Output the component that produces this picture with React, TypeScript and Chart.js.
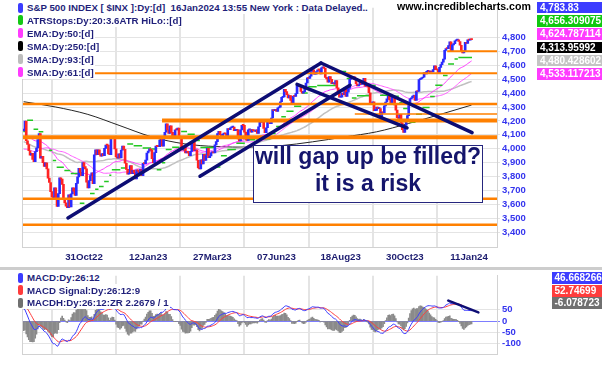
import React, { useEffect, useRef } from "react";
import { Chart, registerables } from "chart.js";

Chart.register(...registerables);

const FONT = "'Liberation Sans', Arial, Helvetica, sans-serif";

// ---------- DATA ----------
// S&P 500 daily closes before the visible window (Apr 1 2022 .. Aug 23 2022), used to warm up the indicators
const WARMUP_CLOSES = [
  4546, 4583, 4525, 4481, 4500, 4488, 4413, 4397, 4447, 4392, 4392, 4463, 4459, 4394, 4272, 4296, 4175, 4184, 4288, 4132,
  4155, 4175, 4300, 4147, 4123, 3991, 4001, 3935, 3930, 4024, 4008, 4088, 3923, 3901, 3901, 3974, 3941, 3979, 4058, 4158, 4132,
  4101, 4177, 4109, 4121, 4161, 4116, 4018, 3901, 3750, 3735, 3790, 3667, 3675, 3765, 3760, 3796, 3912, 3901, 3822, 3819, 3785,
  3825, 3831, 3845, 3903, 3899, 3855, 3819, 3802, 3791, 3863, 3831, 3937, 3960, 3999, 3962, 3967, 3921, 4024, 4072, 4130,
  4119, 4091, 4155, 4152, 4145, 4140, 4122, 4210, 4208, 4280, 4297, 4305, 4275, 4284, 4228, 4138, 4128,
];

// visible daily closes, Aug 24 2022 .. Jan 16 2024
const FIRST_DATE = "2022-08-24";
const CLOSES = [
  // Aug 22
  4141, 4199, 4058, 4031, 3986, 3955,
  // Sep 22
  3967, 3924, 3908, 3980, 4006, 4067, 4110, 3932, 3946, 3901, 3873, 3900, 3856, 3790, 3758, 3693, 3655, 3647, 3719, 3640, 3586,
  // Oct 22
  3678, 3791, 3783, 3745, 3640, 3612, 3589, 3577, 3670, 3583, 3677, 3720, 3696, 3666, 3752, 3798, 3859, 3831, 3807, 3901, 3872,
  // Nov 22
  3856, 3760, 3720, 3771, 3807, 3828, 3749, 3956, 3993, 3957, 3992, 3959, 3947, 3965, 3950, 4003, 4027, 4026, 3964, 3958, 4080,
  // Dec 22
  4076, 4072, 3999, 3941, 3933, 3964, 3934, 3991, 4019, 3996, 3896, 3852, 3818, 3821, 3879, 3822, 3845, 3829, 3783, 3849, 3840,
  // Jan 23
  3824, 3853, 3808, 3895, 3893, 3919, 3970, 3983, 3999, 3991, 3929, 3899, 3972, 4019, 4017, 4016, 4060, 4071, 4018, 4077,
  // Feb 23
  4119, 4180, 4136, 4111, 4164, 4118, 4082, 4090, 4137, 4136, 4148, 4090, 4079, 3997, 3991, 4012, 3970, 3982, 3970,
  // Mar 23
  3951, 3981, 4046, 4048, 3986, 3992, 3918, 3862, 3855, 3920, 3892, 3960, 3917, 3952, 4003, 3937, 3948, 3971, 3977, 3971, 4028, 4051, 4109,
  // Apr 23
  4125, 4101, 4091, 4105, 4110, 4108, 4092, 4146, 4138, 4151, 4155, 4155, 4130, 4133, 4138, 4071, 4056, 4136, 4169,
  // May 23
  4168, 4120, 4091, 4061, 4136, 4138, 4119, 4138, 4130, 4124, 4136, 4110, 4158, 4198, 4192, 4192, 4146, 4116, 4151, 4205, 4206, 4180,
  // Jun 23
  4221, 4282, 4273, 4284, 4268, 4294, 4299, 4338, 4369, 4373, 4426, 4410, 4389, 4366, 4382, 4348, 4328, 4378, 4376, 4396, 4450,
  // Jul 23
  4455, 4447, 4412, 4399, 4410, 4439, 4472, 4510, 4505, 4522, 4555, 4566, 4535, 4536, 4555, 4567, 4566, 4537, 4582, 4589,
  // Aug 23
  4577, 4513, 4502, 4478, 4518, 4499, 4468, 4469, 4464, 4490, 4437, 4404, 4370, 4370, 4400, 4388, 4436, 4376, 4406, 4433, 4498, 4515, 4508,
  // Sep 23
  4516, 4497, 4465, 4451, 4458, 4487, 4462, 4467, 4505, 4450, 4454, 4444, 4402, 4330, 4320, 4337, 4274, 4275, 4300, 4288,
  // Oct 23
  4288, 4229, 4263, 4258, 4308, 4336, 4358, 4377, 4350, 4327, 4374, 4373, 4315, 4278, 4224, 4218, 4248, 4186, 4137, 4117, 4167, 4194,
  // Nov 23
  4238, 4318, 4358, 4365, 4378, 4383, 4347, 4415, 4411, 4496, 4502, 4508, 4514, 4547, 4538, 4556, 4559, 4550, 4554, 4551, 4568,
  // Dec 23
  4595, 4569, 4567, 4549, 4585, 4604, 4622, 4644, 4707, 4720, 4719, 4741, 4768, 4698, 4746, 4755, 4775, 4781, 4783, 4770,
  // Jan 24
  4743, 4705, 4689, 4697, 4764, 4757, 4783, 4780, 4784, 4783.83,
];

const HOLIDAYS = [
  "2022-09-05", "2022-11-24", "2022-12-26", "2023-01-02", "2023-01-16", "2023-02-20", "2023-04-07",
  "2023-05-29", "2023-06-19", "2023-07-04", "2023-09-04", "2023-11-23", "2023-12-25", "2024-01-01", "2024-01-15",
];

const TICK_DATES = ["2022-10-31", "2023-01-12", "2023-03-27", "2023-06-07", "2023-08-18", "2023-10-30", "2024-01-11"];
const TICK_LABELS = ["31Oct22", "12Jan23", "27Mar23", "07Jun23", "18Aug23", "30Oct23", "11Jan24"];
const PRICE_TICKS = [3400, 3500, 3600, 3700, 3800, 3900, 4000, 4100, 4200, 4300, 4400, 4500, 4600, 4700, 4800];
const MACD_TICKS = [50, 0, -50, -100];

// SMA 250 (bar index, value)
const SMA250_IDX = [0, 25, 50, 75, 100, 125, 150, 175, 200, 225, 250, 275, 300, 325, 349];
const SMA250_VAL = [4338, 4300, 4247, 4166, 4085, 4036, 4016, 4012, 4022, 4050, 4085, 4122, 4182, 4248, 4314];

// ATR trailing stop levels: [first bar, last bar, level]
const ATR_STOPS = [
  [0, 1, 4125], [3, 7, 4205], [8, 11, 4140], [12, 15, 4122], [16, 19, 4075], [20, 22, 3990], [23, 25, 3916],
  [26, 31, 3868], [32, 36, 3845], [37, 42, 3822], [44, 47, 3610], [48, 51, 3640], [52, 55, 3680], [56, 58, 3709],
  [59, 62, 3730], [63, 66, 3765], [67, 68, 3810], [69, 75, 3850], [76, 79, 3862], [81, 85, 4035], [86, 92, 4022],
  [93, 99, 4005], [100, 102, 3998], [104, 107, 3850], [108, 110, 3900], [111, 115, 3995], [116, 121, 4012],
  [123, 127, 4125], [128, 133, 4105], [134, 137, 4060], [138, 148, 4010], [150, 153, 3870], [154, 158, 3950],
  [159, 165, 3995], [166, 172, 4040], [173, 180, 4065], [181, 192, 4072], [193, 196, 4110], [197, 200, 4160],
  [201, 204, 4230], [205, 210, 4270], [211, 216, 4305], [217, 221, 4400], [222, 228, 4445], [229, 243, 4455],
  [245, 251, 4555], [252, 254, 4505], [256, 259, 4365], [260, 269, 4380], [271, 274, 4455], [275, 277, 4430],
  [278, 286, 4385], [287, 292, 4378], [293, 295, 4330], [296, 299, 4290], [301, 305, 4190], [306, 310, 4248],
  [311, 316, 4297], [317, 320, 4376], [321, 326, 4457], [327, 330, 4526], [331, 335, 4609], [336, 338, 4644],
  [339, 349, 4656],
];

// horizontal support / resistance levels and the bar they start from
const SUPPORT_LEVELS = [4700, 4542, 4322, 4250, 4203, 4082, 3641, 3455];
const SUPPORT_FROM = [330, 40, -2, 258, 107.8, -2, -2, -2];

// trend lines: [bar1, price1, bar2, price2]
const TREND_LINES = [
  [34.5, 3504, 231.7, 4616],
  [137.4, 3803, 254.3, 4456],
  [231.7, 4616, 349.4, 4116],
  [213.0, 4463, 298.7, 4150],
];
const MACD_TREND = [330.9, 90.6, 354.3, 38.7];
const HIST_SCALE = 2.2679;

// ---------- STYLE ----------
const SUPPORT_WIDTHS = [2, 2, 2.5, 1.5, 4, 4, 2.5, 2.5];
const X_MIN = -1.3;
const X_MAX = 368.8;

// ---------- helpers ----------
function tradingDates(start: string, n: number): string[] {
  const out: string[] = [];
  const d = new Date(start + "T12:00:00Z");
  while (out.length < n) {
    const wd = d.getUTCDay();
    const iso = d.toISOString().slice(0, 10);
    if (wd !== 0 && wd !== 6 && !HOLIDAYS.includes(iso)) out.push(iso);
    d.setUTCDate(d.getUTCDate() + 1);
  }
  return out;
}
function ema(src: number[], n: number): number[] {
  const k = 2 / (n + 1);
  const out: number[] = [];
  let e = src[0];
  for (let i = 0; i < src.length; i++) {
    e = i === 0 ? src[0] : src[i] * k + e * (1 - k);
    out.push(e);
  }
  return out;
}
function sma(src: number[], n: number): (number | null)[] {
  const out: (number | null)[] = [];
  let s = 0;
  for (let i = 0; i < src.length; i++) {
    s += src[i];
    if (i >= n) s -= src[i - n];
    out.push(i >= n - 1 ? s / n : null);
  }
  return out;
}

const LEGEND_MAIN = [
  { text: "S&P 500 INDEX [ $INX ]:Dy:[d]  16Jan2024 13:55 New York : Data Delayed..", color: "#3c3cff" },
  { text: "ATRStops:Dy:20:3.6ATR HiLo::[d]", color: "#14c814" },
  { text: "EMA:Dy:50:[d]", color: "#ff3cff" },
  { text: "SMA:Dy:250:[d]", color: "#000000" },
  { text: "SMA:Dy:93:[d]", color: "#bdbdbd" },
  { text: "SMA:Dy:61:[d]", color: "#ff3cff" },
];
const VALUE_BOXES = [
  { text: "4,783.83", color: "#3c3cff" },
  { text: "4,656.309075", color: "#10c810" },
  { text: "4,624.787114", color: "#ff3cff" },
  { text: "4,313.95992", color: "#000000" },
  { text: "4,480.428602", color: "#c4c4c4" },
  { text: "4,533.117213", color: "#ff3cff" },
];
const LEGEND_MACD = [
  { text: "MACD:Dy:26:12", color: "#3c3cff" },
  { text: "MACD Signal:Dy:26:12:9", color: "#ff3c3c" },
  { text: "MACDH:Dy:26:12:ZR 2.2679 / 1", color: "#707070" },
];
const MACD_BOXES = [
  { text: "46.668266", color: "#3c3cff" },
  { text: "52.74699", color: "#ff3c3c" },
  { text: "-6.078723", color: "#707070" },
];

export default function App() {
  const mainRef = useRef<HTMLCanvasElement>(null);
  const macdRef = useRef<HTMLCanvasElement>(null);

  useEffect(() => {
    const all = [...WARMUP_CLOSES, ...CLOSES];
    const off = WARMUP_CLOSES.length;
    const dates = tradingDates(FIRST_DATE, CLOSES.length + 25);
    const tickIdx = TICK_DATES.map((t) => dates.indexOf(t));
    const tickMap = new Map<number, string>();
    tickIdx.forEach((v, i) => tickMap.set(v, TICK_LABELS[i]));

    const ema50 = ema(all, 50).slice(off);
    const sma61 = sma(all, 61).slice(off);
    const sma93 = sma(all, 93).slice(off);
    const e12 = ema(all, 12);
    const e26 = ema(all, 26);
    const macdAll = e12.map((v, i) => v - e26[i]);
    const sigAll = ema(macdAll, 9);
    const macd = macdAll.slice(off);
    const sig = sigAll.slice(off);
    const hist = macd.map((v, i) => v - sig[i]);

    const priceBars = CLOSES.map((c, i) => ({ x: i, y: [i === 0 ? all[off - 1] : CLOSES[i - 1], c] }));
    const barColors = CLOSES.map((c, i) => (c >= (i === 0 ? all[off - 1] : CLOSES[i - 1]) ? "#2a2aff" : "#ff2424"));

    const atrPts: any[] = [];
    ATR_STOPS.forEach(([s, e, v]) => {
      atrPts.push({ x: s - 0.3, y: v }, { x: e + 0.3, y: v }, { x: e + 0.5, y: null });
    });

    const line = (arr: (number | null)[]) => arr.map((v, i) => ({ x: i, y: v }));

    const fontTick = { family: FONT, size: 9.5, weight: "bold" as const };

    const overlay = {
      id: "overlay",
      afterDatasetsDraw(chart: any) {
        const { ctx, chartArea: a, scales } = chart;
        const xs = scales.x;
        const ys = scales.y;
        ctx.save();
        ctx.beginPath();
        ctx.rect(a.left, a.top, a.right - a.left, a.bottom - a.top);
        ctx.clip();
        SUPPORT_LEVELS.forEach((lv, i) => {
          const y = ys.getPixelForValue(lv);
          ctx.strokeStyle = "#ff8000";
          ctx.lineWidth = SUPPORT_WIDTHS[i];
          ctx.beginPath();
          ctx.moveTo(xs.getPixelForValue(SUPPORT_FROM[i]), y);
          ctx.lineTo(a.right, y);
          ctx.stroke();
        });
        ctx.strokeStyle = "#0d0d74";
        ctx.lineWidth = 3.5;
        ctx.lineCap = "round";
        TREND_LINES.forEach(([x1, y1, x2, y2]) => {
          ctx.beginPath();
          ctx.moveTo(xs.getPixelForValue(x1), ys.getPixelForValue(y1));
          ctx.lineTo(xs.getPixelForValue(x2), ys.getPixelForValue(y2));
          ctx.stroke();
        });
        ctx.restore();
        ctx.save();
        ctx.strokeStyle = "#d2d2d2";
        ctx.lineWidth = 1;
        ctx.beginPath();
        ctx.moveTo(a.left + 0.5, a.top);
        ctx.lineTo(a.left + 0.5, a.bottom);
        ctx.stroke();
        ctx.restore();
      },
    };

    const mainChart = new Chart(mainRef.current as HTMLCanvasElement, {
      type: "bar",
      data: {
        datasets: [
          {
            type: "bar",
            data: priceBars as any,
            backgroundColor: barColors,
            barThickness: 2,
            minBarLength: 1,
            order: 0,
          } as any,
          {
            type: "line",
            data: atrPts,
            borderColor: "#22c822",
            borderWidth: 1.5,
            pointRadius: 0,
            spanGaps: false,
            order: 1,
          } as any,
          { type: "line", data: line(ema50), borderColor: "#ff3cff", borderWidth: 1, pointRadius: 0, order: 2 } as any,
          { type: "line", data: line(sma61), borderColor: "#ff5cff", borderWidth: 1, pointRadius: 0, order: 2 } as any,
          { type: "line", data: line(sma93), borderColor: "#c0c0c0", borderWidth: 1.5, pointRadius: 0, order: 3 } as any,
          {
            type: "line",
            data: SMA250_IDX.map((x, i) => ({ x, y: SMA250_VAL[i] })),
            borderColor: "#262626",
            borderWidth: 1,
            pointRadius: 0,
            cubicInterpolationMode: "monotone",
            order: 3,
          } as any,
        ],
      },
      options: {
        animation: false,
        responsive: false,
        events: [],
        layout: { padding: { left: 22, top: 0, right: 0, bottom: 0 } },
        plugins: { legend: { display: false }, tooltip: { enabled: false } },
        scales: {
          x: {
            type: "linear",
            min: X_MIN,
            max: X_MAX,
            offset: false,
            afterBuildTicks: (s: any) => {
              s.ticks = tickIdx.map((v) => ({ value: v }));
            },
            afterFit: (s: any) => {
              s.height = 21;
            },
            ticks: {
              autoSkip: false,
              maxRotation: 0,
              padding: 5,
              color: "#1d1d70",
              font: { family: FONT, size: 9.7, weight: "bold" },
              callback: (v: any) => tickMap.get(Math.round(Number(v))) ?? "",
            },
            grid: { color: "#e4e4e4", lineWidth: 2, drawTicks: false },
            border: { display: true, color: "#d2d2d2", width: 1 },
          },
          y: {
            type: "linear",
            position: "right",
            min: 3295.1,
            max: 5012.8,
            afterBuildTicks: (s: any) => {
              s.ticks = PRICE_TICKS.map((v) => ({ value: v }));
            },
            afterFit: (s: any) => {
              s.width = 105;
            },
            ticks: {
              padding: 2,
              color: "#3434ee",
              font: fontTick,
              callback: (v: any) => Number(v).toLocaleString("en-US"),
            },
            grid: { color: "#e4e4e4", lineWidth: 1, tickLength: 3 },
            border: { display: true, color: "#d2d2d2", width: 1 },
          },
        },
      } as any,
      plugins: [overlay],
    });

    const macdOverlay = {
      id: "macdOverlay",
      afterDatasetsDraw(chart: any) {
        const { ctx, chartArea: a, scales } = chart;
        const xs = scales.x;
        const ys = scales.y;
        ctx.save();
        ctx.beginPath();
        ctx.rect(a.left, a.top, a.right - a.left, a.bottom - a.top);
        ctx.clip();
        ctx.strokeStyle = "#0d0d74";
        ctx.lineWidth = 2.5;
        ctx.lineCap = "round";
        ctx.beginPath();
        ctx.moveTo(xs.getPixelForValue(MACD_TREND[0]), ys.getPixelForValue(MACD_TREND[1]));
        ctx.lineTo(xs.getPixelForValue(MACD_TREND[2]), ys.getPixelForValue(MACD_TREND[3]));
        ctx.stroke();
        ctx.restore();
        ctx.save();
        ctx.strokeStyle = "#d2d2d2";
        ctx.lineWidth = 1;
        ctx.beginPath();
        ctx.moveTo(a.left + 0.5, a.top);
        ctx.lineTo(a.left + 0.5, a.bottom);
        ctx.stroke();
        ctx.restore();
      },
    };

    const macdChart = new Chart(macdRef.current as HTMLCanvasElement, {
      type: "bar",
      data: {
        datasets: [
          { type: "line", data: line(macd), borderColor: "#3c3cff", borderWidth: 1, pointRadius: 0, order: 0 } as any,
          { type: "line", data: line(sig), borderColor: "#ff3c3c", borderWidth: 1, pointRadius: 0, order: 1 } as any,
          {
            type: "bar",
            data: hist.map((v, i) => ({ x: i, y: v * HIST_SCALE })),
            backgroundColor: "#8a8a8a",
            barThickness: 1,
            order: 2,
          } as any,
        ],
      },
      options: {
        animation: false,
        responsive: false,
        events: [],
        layout: { padding: { left: 22, top: 2, right: 0, bottom: 0 } },
        plugins: { legend: { display: false }, tooltip: { enabled: false } },
        scales: {
          x: {
            type: "linear",
            min: X_MIN,
            max: X_MAX,
            offset: false,
            afterBuildTicks: (s: any) => {
              s.ticks = tickIdx.map((v) => ({ value: v }));
            },
            afterFit: (s: any) => {
              s.height = 11;
            },
            ticks: { display: false },
            grid: { color: "#e4e4e4", lineWidth: 2, drawTicks: false },
            border: { display: true, color: "#d2d2d2", width: 1 },
          },
          y: {
            type: "linear",
            position: "right",
            min: -145.4,
            max: 200.7,
            afterBuildTicks: (s: any) => {
              s.ticks = MACD_TICKS.map((v) => ({ value: v }));
            },
            afterFit: (s: any) => {
              s.width = 105;
            },
            ticks: { padding: 2, color: "#3434ee", font: fontTick },
            grid: {
              color: (c: any) => (c.tick && c.tick.value === 0 ? "#7d7dff" : "#e4e4e4"),
              lineWidth: 1,
              tickLength: 3,
            },
            border: { display: true, color: "#d2d2d2", width: 1 },
          },
        },
      } as any,
      plugins: [macdOverlay],
    });

    return () => {
      mainChart.destroy();
      macdChart.destroy();
    };
  }, []);

  const legendRow = (r: { text: string; color: string }, center: number, key: string) => (
    <div
      key={key}
      style={{
        position: "absolute",
        left: 18,
        top: center - 6.5,
        height: 13,
        display: "flex",
        alignItems: "center",
        background: "#fff",
        paddingRight: 1,
      }}
    >
      <span style={{ display: "inline-block", width: 5, height: 10, borderRadius: 2, background: r.color, marginRight: 4 }} />
      <span style={{ font: `bold 9.7px ${FONT}`, color: "#1f1f7a", whiteSpace: "pre", lineHeight: "13px" }}>{r.text}</span>
    </div>
  );

  const valueBox = (b: { text: string; color: string }, left: number, top: number, h: number, key: string) => (
    <div
      key={key}
      style={{
        position: "absolute",
        left,
        top,
        width: 602 - left,
        height: h,
        background: b.color,
        color: "#fff",
        font: `bold 10px ${FONT}`,
        lineHeight: `${h}px`,
        paddingLeft: 3,
        boxSizing: "border-box",
        whiteSpace: "pre",
        overflow: "hidden",
      }}
    >
      {b.text}
    </div>
  );

  return (
    <div
      style={{
        position: "absolute",
        left: 0,
        top: 0,
        width: 602,
        height: 365,
        background: "#fff",
        overflow: "hidden",
        fontFamily: FONT,
      }}
    >
      <canvas ref={mainRef} width={602} height={268} style={{ position: "absolute", left: 0, top: 0 }} />
      <canvas ref={macdRef} width={602} height={97} style={{ position: "absolute", left: 0, top: 268 }} />
      <div style={{ position: "absolute", left: 0, top: 267, width: 602, height: 3, background: "#cdcdcd" }} />

      {LEGEND_MAIN.map((r, i) => legendRow(r, 7.5 + 12.9 * i, "lm" + i))}
      {LEGEND_MACD.map((r, i) => legendRow(r, 277.5 + 12.5 * i, "lc" + i))}

      <div
        style={{
          position: "absolute",
          left: 397,
          top: 0,
          height: 14,
          lineHeight: "14px",
          font: `bold 10.6px ${FONT}`,
          color: "#000",
          whiteSpace: "pre",
        }}
      >
        www.incrediblecharts.com
      </div>

      {VALUE_BOXES.map((b, i) => valueBox(b, 537, 1.7 + 13.3 * i, 11.5, "vb" + i))}
      {MACD_BOXES.map((b, i) => valueBox(b, 551.5, 272.3 + 12.4 * i, 12, "mb" + i))}

      <div
        style={{
          position: "absolute",
          left: 253,
          top: 145,
          width: 230,
          height: 58,
          boxSizing: "border-box",
          border: "1.5px solid #26267e",
          background: "#fff",
        }}
      >
        <div
          style={{
            position: "absolute",
            left: 0,
            right: 0,
            top: -1,
            textAlign: "center",
            font: `bold 23px ${FONT}`,
            lineHeight: "23px",
            color: "#15156c",
            whiteSpace: "pre",
          }}
        >
          will gap up be filled?
        </div>
        <div
          style={{
            position: "absolute",
            left: 0,
            right: 0,
            top: 26,
            textAlign: "center",
            font: `bold 23px ${FONT}`,
            lineHeight: "23px",
            color: "#15156c",
            whiteSpace: "pre",
          }}
        >
          it is a risk
        </div>
      </div>
    </div>
  );
}
